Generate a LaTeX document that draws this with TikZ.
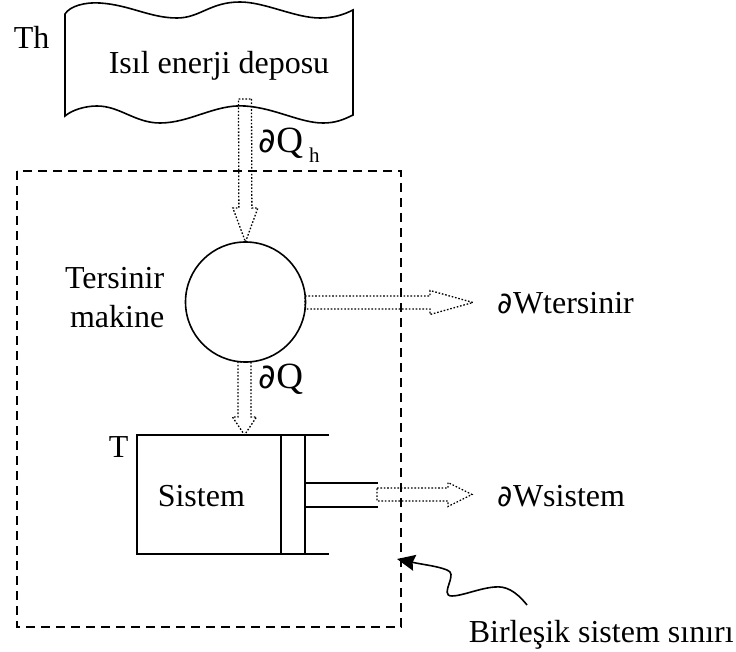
\documentclass[tikz,border=0pt]{standalone}
\usepackage{fontspec}
\setmainfont{Liberation Serif}
\newfontfamily\partialfont{DejaVu Sans}
\usetikzlibrary{arrows.meta, calc}
\tikzset{
x=1pt, y=-1pt,
>={Stealth[length=18pt,width=16pt,inset=2pt]},
txt/.style={font=\fontsize{32}{36}\selectfont, inner sep=0pt, anchor=base west},
bigtxt/.style={txt, font=\fontsize{37}{40}\selectfont},
flow/.style={draw, line width=1.3pt, dash pattern=on 1.6pt off 1.8pt},
boundary/.style={draw, line width=1.6pt, dash pattern=on 9pt off 6pt},
}
\newcommand{\prt}{{\partialfont\scalebox{0.92}{∂}}}
% hollow dotted arrow: from, to, half width of the shaft, length of the head, half width of the head
\newcommand{\flowarrow}[5]{
\coordinate (hd) at ($(#2)!#4!(#1)$);
\draw[flow] ($(#1)!#3!90:(#2)$) -- ($(hd)!#3!-90:(#1)$) -- ($(hd)!#5!-90:(#1)$) -- (#2)
-- ($(hd)!#5!90:(#1)$) -- ($(hd)!#3!90:(#1)$) -- ($(#1)!#3!-90:(#2)$) -- cycle;
}
\begin{document}
\begin{tikzpicture}[line width=1.6pt]
\useasboundingbox (0,0) rectangle (736,652);
\fill[white] (0,0) rectangle (736,652);
% reservoir
\draw (65,14) .. controls (70,6) and (85,2) .. (100,3) .. controls (130,5) and (150,18) .. (177,18) .. controls (200,18) and (210,2) .. (240,2) .. controls (265,2) and (295,18) .. (320,18) .. controls (333,18) and (343,15) .. (353,10) -- (353,115) .. controls (343,120) and (335,123) .. (323,123) .. controls (300,123) and (275,108) .. (245,106) .. controls (215,104) and (190,123) .. (160,123) .. controls (135,123) and (120,106) .. (97,106) .. controls (85,106) and (72,110) .. (65,116) -- cycle;
\node[txt] (reservoir) at (108,74) {Isıl enerji deposu};
\node[txt] (th) at (13,49) {Th};
% combined system
\draw[boundary] (17,171) rectangle (401,627);
\node[circle, draw, minimum size=120pt, inner sep=0pt, outer sep=0pt] (engine) at (245.5,302) {};
\node[txt, anchor=base east] (tersinir) at (165,289) {Tersinir};
\node[txt, anchor=base east] (makine) at (165,327) {makine};
% cylinder and piston
\node[draw, minimum width=144pt, minimum height=119pt, inner sep=0pt, outer sep=0pt] (cylinder) at (209,494.5) {};
\node[draw, minimum width=24pt, minimum height=119pt, inner sep=0pt, outer sep=0pt] (piston) at (293,494.5) {};
\draw (piston.north east) -- ++(24,0) coordinate (top end);
\draw (piston.south east) -- ++(24,0) coordinate (bottom end);
\coordinate (rod a) at (305,483);
\coordinate (rod b) at (305,507);
\draw (rod a) -- ++(73,0) (rod b) -- ++(73,0);
\node[txt] (sistem) at (157,506) {Sistem};
\node[txt] (t) at (108,457) {T};
% heat and work
\coordinate (h out) at (245,99);
\flowarrow{h out}{engine.north}{6.5pt}{34pt}{12.5pt}
\coordinate (q out) at (244.5,362);
\flowarrow{q out}{cylinder.north -| q out}{6.5pt}{18pt}{12pt}
\coordinate (w1 out) at (305,302.5);
\coordinate (w1 tip) at (473,302.5);
\flowarrow{w1 out}{w1 tip}{6.5pt}{43pt}{12pt}
\coordinate (w2 out) at (377,494.5);
\coordinate (w2 tip) at (472,494.5);
\flowarrow{w2 out}{w2 tip}{6.5pt}{24pt}{12pt}
\node[bigtxt] (qh) at (258,153) {\prt Q\hspace{6pt}\raisebox{-10pt}{\fontsize{21}{21}\selectfont h}};
\node[bigtxt] (q) at (258,388) {\prt Q};
\node[txt] (wtersinir) at (497,313) {\prt Wtersinir};
\node[txt] (wsistem) at (497,506) {\prt Wsistem};
% pointer to the boundary
\node[txt] (sinir) at (468,642) {Birleşik sistem sınırı};
\coordinate (curve start) at (527,605);
\coordinate (curve tip) at (397,559);
\draw[->] (curve start) .. controls (515,590) and (505,586) .. (495,587) .. controls (480,588) and (462,596) .. (452,596) .. controls (445,596) and (447,590) .. (449,584) .. controls (452,575) and (452,572) .. (447,570) .. controls (437,566) and (425,565) .. (curve tip);
\end{tikzpicture}
\end{document}
